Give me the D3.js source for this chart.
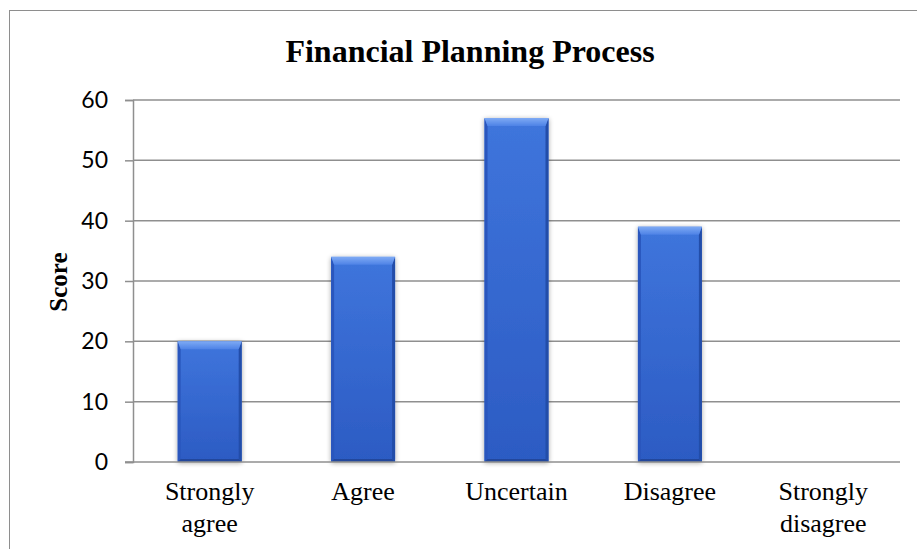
<!DOCTYPE html>
<html>
<head>
<meta charset="utf-8">
<script src="https://cdn.jsdelivr.net/npm/d3@7"></script>
<style>
  html, body { margin: 0; padding: 0; background: #fff; }
  svg { display: block; }
</style>
</head>
<body>
<svg id="chart" width="917" height="549"></svg>
<script>
// Survey responses on the financial planning process
const categories = [["Strongly", "agree"], ["Agree"], ["Uncertain"], ["Disagree"], ["Strongly", "disagree"]];
const scores = [20, 34, 57, 39, 0];
const yTicks = [0, 10, 20, 30, 40, 50, 60];

const svg = d3.select("#chart");
const W = 917, H = 549;
const plot = { left: 133, right: 900, top: 100, bottom: 462 };

// Outer chart frame (runs off the right and bottom edges)
svg.append("rect")
  .attr("x", 9.5).attr("y", 10.5)
  .attr("width", W + 20).attr("height", H + 20)
  .attr("fill", "none").attr("stroke", "#8e8e8e").attr("stroke-width", 1);

const keys = categories.map((c, i) => i);
const x = d3.scaleBand().domain(keys).range([plot.left, plot.right])
  .paddingInner(0.583).paddingOuter(0.2915);
const y = d3.scaleLinear().domain([0, 60]).range([plot.bottom, plot.top]);

// Gradients for the bevelled bars
const defs = svg.append("defs");
const face = defs.append("linearGradient").attr("id", "face")
  .attr("x1", 0).attr("y1", 0).attr("x2", 0).attr("y2", 1);
face.append("stop").attr("offset", "0%").attr("stop-color", "#3f75dc");
face.append("stop").attr("offset", "100%").attr("stop-color", "#2c5bc3");
const topG = defs.append("linearGradient").attr("id", "topBevel")
  .attr("x1", 0).attr("y1", 0).attr("x2", 0).attr("y2", 1);
topG.append("stop").attr("offset", "0%").attr("stop-color", "#7eaaf4");
topG.append("stop").attr("offset", "100%").attr("stop-color", "#4d82e6");
const shadow = defs.append("filter").attr("id", "shadow")
  .attr("x", "-20%").attr("y", "-10%").attr("width", "140%").attr("height", "120%");
shadow.append("feGaussianBlur").attr("in", "SourceAlpha").attr("stdDeviation", 2.5);
shadow.append("feOffset").attr("dx", 0).attr("dy", 1).attr("result", "b");
shadow.append("feComponentTransfer").append("feFuncA").attr("type", "linear").attr("slope", 0.35);
const merge = shadow.append("feMerge");
merge.append("feMergeNode");
merge.append("feMergeNode").attr("in", "SourceGraphic");

// Gridlines
svg.append("g")
  .selectAll("line").data(yTicks.filter(t => t > 0)).join("line")
  .attr("x1", plot.left).attr("x2", plot.right)
  .attr("y1", d => y(d)).attr("y2", d => y(d))
  .attr("stroke", "#8f8f8f").attr("stroke-width", 1.5);

// Y axis
const yAxis = svg.append("g")
  .attr("transform", `translate(${plot.left},0)`)
  .call(d3.axisLeft(y).tickValues(yTicks).tickSize(8).tickPadding(17));
yAxis.select(".domain").attr("stroke", "#8f8f8f").attr("stroke-width", 1.5);
yAxis.selectAll(".tick line").attr("stroke", "#8f8f8f").attr("stroke-width", 1.5);
yAxis.selectAll(".tick text")
  .attr("font-family", "Lato, 'Liberation Sans', sans-serif")
  .attr("font-size", 23).attr("fill", "#000");

// Bars
const bw = x.bandwidth();
const bars = svg.append("g").selectAll("g").data(keys).join("g")
  .filter(i => scores[i] > 0)
  .attr("filter", "url(#shadow)");
bars.each(function (i) {
  const g = d3.select(this);
  const x0 = x(i), x1 = x0 + bw;
  const yt = y(scores[i]), yb = y(0);
  const tb = 8, sb = 3, bb = 3;
  g.append("rect").attr("x", x0).attr("y", yt).attr("width", bw).attr("height", yb - yt)
    .attr("fill", "url(#face)");
  // left and right side bevels
  g.append("path").attr("fill", "#2a57bd")
    .attr("d", `M${x0},${yt}L${x0 + sb},${yt + tb}L${x0 + sb},${yb - bb}L${x0},${yb}Z`);
  g.append("path").attr("fill", "#244ea9")
    .attr("d", `M${x1},${yt}L${x1 - sb},${yt + tb}L${x1 - sb},${yb - bb}L${x1},${yb}Z`);
  // bottom bevel
  g.append("path").attr("fill", "#21479c")
    .attr("d", `M${x0},${yb}L${x0 + sb},${yb - bb}L${x1 - sb},${yb - bb}L${x1},${yb}Z`);
  // top bevel
  g.append("path").attr("fill", "url(#topBevel)")
    .attr("d", `M${x0},${yt}L${x1},${yt}L${x1 - sb},${yt + tb}L${x0 + sb},${yt + tb}Z`);
});

// Baseline drawn above the bars
svg.append("line")
  .attr("x1", plot.left - 8).attr("x2", plot.right)
  .attr("y1", y(0)).attr("y2", y(0))
  .attr("stroke", "#8f8f8f").attr("stroke-width", 1.5);

// Category labels
svg.append("g").selectAll("text").data(keys).join("text")
  .attr("x", i => x(i) + bw / 2)
  .attr("y", 500)
  .attr("text-anchor", "middle")
  .attr("font-family", "'Liberation Serif', 'Times New Roman', serif")
  .attr("font-size", 26).attr("fill", "#000")
  .each(function (i) {
    const t = d3.select(this);
    categories[i].forEach((line, k) => {
      t.append("tspan").attr("x", x(i) + bw / 2).attr("dy", k === 0 ? 0 : 32).text(line);
    });
  });

// Title
svg.append("text")
  .attr("x", 470).attr("y", 62)
  .attr("text-anchor", "middle")
  .attr("font-family", "'Liberation Serif', 'Times New Roman', serif")
  .attr("font-weight", "bold").attr("font-size", 32).attr("fill", "#000")
  .text("Financial Planning Process");

// Y axis title
svg.append("text")
  .attr("transform", "translate(67,282) rotate(-90)")
  .attr("text-anchor", "middle")
  .attr("font-family", "'Liberation Serif', 'Times New Roman', serif")
  .attr("font-weight", "bold").attr("font-size", 25).attr("fill", "#000")
  .text("Score");
</script>
</body>
</html>
